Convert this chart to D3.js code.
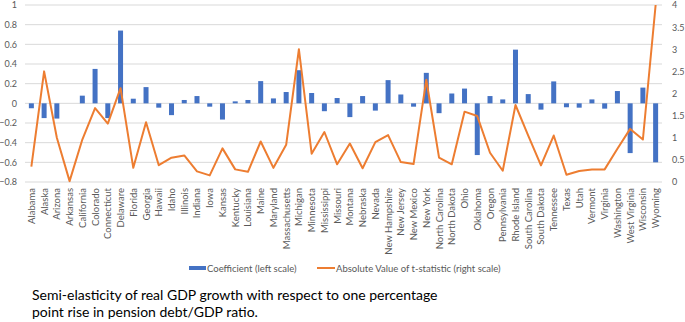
<!DOCTYPE html>
<html>
<head>
<meta charset="utf-8">
<script src="https://cdn.jsdelivr.net/npm/d3@7"></script>
<style>
  body { margin: 0; background: #fff; }
  svg { display: block; }
</style>
</head>
<body>
<svg id="chart" width="685" height="322"></svg>
<script>
// states on the x axis
const states = ["Alabama","Alaska","Arizona","Arkansas","California","Colorado","Connecticut","Delaware","Florida","Georgia","Hawaii","Idaho","Illinois","Indiana","Iowa","Kansas","Kentucky","Louisiana","Maine","Maryland","Massachusetts","Michigan","Minnesota","Mississippi","Missouri","Montana","Nebraska","Nevada","New Hampshire","New Jersey","New Mexico","New York","North Carolina","North Dakota","Ohio","Oklahoma","Oregon","Pennsylvania","Rhode Island","South Carolina","South Dakota","Tennessee","Texas","Utah","Vermont","Virginia","Washington","West Virginia","Wisconsin","Wyoming"];

// coefficient (left scale)
const coefficient = [-0.05,-0.15,-0.155,0,0.078,0.35,-0.15,0.74,0.047,0.165,-0.044,-0.12,0.034,0.074,-0.034,-0.165,0.02,0.034,0.226,0.05,0.115,0.337,0.105,-0.08,0.054,-0.14,0.074,-0.074,0.236,0.09,-0.034,0.31,-0.1,0.1,0.15,-0.526,0.074,0.04,0.546,0.094,-0.064,0.223,-0.04,-0.044,0.04,-0.054,0.125,-0.506,0.16,-0.6];

// absolute value of t-statistic (right scale)
const tstat = [0.345,2.5,1.0,0.02,0.96,1.67,1.32,2.12,0.32,1.35,0.38,0.55,0.6,0.24,0.15,0.76,0.285,0.23,0.915,0.32,0.84,3.0,0.64,1.13,0.4,0.87,0.31,0.9,1.06,0.45,0.405,2.31,0.55,0.4,1.59,1.49,0.66,0.255,1.74,1.05,0.375,1.05,0.165,0.25,0.285,0.285,0.75,1.2,0.96,4.0];

const leftTicks = [-0.8,-0.6,-0.4,-0.2,0,0.2,0.4,0.6,0.8,1];
const rightTicks = [0,0.5,1,1.5,2,2.5,3,3.5,4];

const plotLeft = 25, plotRight = 662, plotTop = 5, plotBottom = 182;
const svg = d3.select('#chart');
const font = 'Lato, "Open Sans", sans-serif';

let x = d3.scaleBand().domain(states).range([plotLeft, plotRight]);
let yL = d3.scaleLinear().domain([-0.8, 1]).range([plotBottom, plotTop]);
let yR = d3.scaleLinear().domain([0, 4]).range([plotBottom, plotTop]);

// gridlines
svg.append('g')
    .selectAll('line')
    .data(leftTicks)
    .join('line')
    .attr('x1', plotLeft)
    .attr('x2', plotRight)
    .attr('y1', d => yL(d))
    .attr('y2', d => yL(d))
    .attr('stroke', '#d9d9d9')
    .attr('stroke-width', 1);

// left axis
let axL = svg.append('g')
    .attr('transform', `translate(${plotLeft - 8},0)`)
    .call(d3.axisLeft(yL).tickValues(leftTicks).tickSize(0).tickPadding(0).tickFormat(d3.format('')));
axL.select('.domain').remove();
axL.selectAll('text').attr('fill', '#595959').style('font', `9px ${font}`);

// right axis
let axR = svg.append('g')
    .attr('transform', `translate(${plotRight + 10},0)`)
    .call(d3.axisRight(yR).tickValues(rightTicks).tickSize(0).tickPadding(0).tickFormat(d3.format('')));
axR.select('.domain').remove();
axR.selectAll('text').attr('fill', '#595959').style('font', `9px ${font}`);

// bars
let bw = 5;
svg.append('g')
    .selectAll('rect')
    .data(states)
    .join('rect')
    .attr('x', (d, i) => x(d) + x.bandwidth() / 2 - bw / 2)
    .attr('width', bw)
    .attr('y', (d, i) => yL(Math.max(0, coefficient[i])))
    .attr('height', (d, i) => Math.abs(yL(coefficient[i]) - yL(0)))
    .attr('fill', '#4472c4');

// t-stat line
let lineGenerator = d3.line()
    .x((d, i) => x(states[i]) + x.bandwidth() / 2)
    .y(d => yR(d));

svg.append('path')
    .datum(tstat)
    .attr('d', lineGenerator)
    .attr('fill', 'none')
    .attr('stroke', '#ed7d31')
    .attr('stroke-width', 2)
    .attr('stroke-linejoin', 'round');

// category labels
svg.append('g')
    .selectAll('text')
    .data(states)
    .join('text')
    .attr('transform', d => `translate(${x(d) + x.bandwidth() / 2 + 3.5},188) rotate(-90)`)
    .attr('text-anchor', 'end')
    .attr('fill', '#595959')
    .style('font', `9.5px ${font}`)
    .text(d => d);

// legend
let lg = svg.append('g');
lg.append('rect').attr('x', 189).attr('y', 266).attr('width', 17).attr('height', 4).attr('fill', '#4472c4');
lg.append('text').attr('x', 207).attr('y', 271.5).attr('fill', '#595959').style('font', `9.5px ${font}`).text('Coefficient (left scale)');
lg.append('line').attr('x1', 317).attr('x2', 335).attr('y1', 268).attr('y2', 268).attr('stroke', '#ed7d31').attr('stroke-width', 2);
lg.append('text').attr('x', 336).attr('y', 271.5).attr('fill', '#595959').style('font', `9.5px ${font}`).text('Absolute Value of t-statistic (right scale)');

// caption
const caption = ['Semi-elasticity of real GDP growth with respect to one percentage', 'point rise in pension debt/GDP ratio.'];
svg.append('g')
    .selectAll('text')
    .data(caption)
    .join('text')
    .attr('x', 32)
    .attr('y', (d, i) => 299.5 + i * 17)
    .attr('fill', '#000')
    .style('font', `14px ${font}`)
    .text(d => d);
</script>
</body>
</html>
